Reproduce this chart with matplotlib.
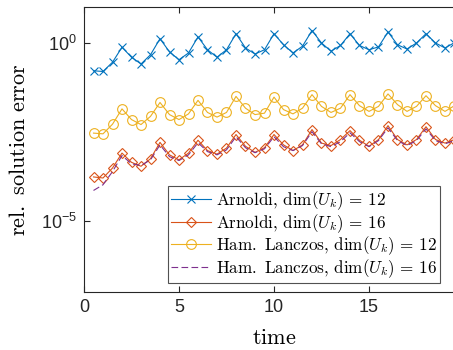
import numpy as np
import matplotlib
matplotlib.use('Agg')
import matplotlib.pyplot as plt
from matplotlib.ticker import FixedLocator, NullLocator

plt.rcParams['font.family'] = ['Liberation Sans', 'DejaVu Sans']
plt.rcParams['mathtext.fontset'] = 'cm'
plt.rcParams['axes.unicode_minus'] = False

# time samples
t = [0.5, 1.0, 1.5, 2.0, 2.5, 3.0, 3.5, 4.0, 4.5, 5.0, 5.5, 6.0, 6.5, 7.0,
     7.5, 8.0, 8.5, 9.0, 9.5, 10.0, 10.5, 11.0, 11.5, 12.0, 12.5, 13.0,
     13.5, 14.0, 14.5, 15.0, 15.5, 16.0, 16.5, 17.0, 17.5, 18.0, 18.5,
     19.0, 19.5]

# log10 of the relative solution error
arnoldi_12 = [-0.79, -0.81, -0.55, -0.13, -0.41, -0.60, -0.34, 0.11, -0.26,
              -0.48, -0.29, 0.16, -0.20, -0.41, -0.20, 0.25, -0.15, -0.32,
              -0.20, 0.25, -0.06, -0.29, -0.10, 0.34, -0.01, -0.24, -0.08,
              0.25, -0.08, -0.20, -0.12, 0.30, -0.06, -0.18, -0.01, 0.25,
              -0.01, -0.15, 0.00]
arnoldi_16 = [-3.77, -3.80, -3.52, -3.10, -3.36, -3.47, -3.26, -2.80, -3.15,
              -3.29, -3.10, -2.74, -3.03, -3.13, -2.96, -2.58, -2.91, -3.08,
              -2.95, -2.58, -2.87, -3.03, -2.87, -2.44, -2.82, -2.89, -2.72,
              -2.47, -2.74, -2.91, -2.72, -2.33, -2.72, -2.87, -2.72, -2.36,
              -2.72, -2.82, -2.72]
lanczos_12 = [-2.54, -2.56, -2.29, -1.86, -2.16, -2.30, -2.07, -1.68, -2.02,
              -2.16, -2.00, -1.62, -1.96, -2.09, -1.96, -1.51, -1.84, -2.02,
              -1.98, -1.53, -1.88, -2.00, -1.84, -1.46, -1.79, -1.96, -1.84,
              -1.46, -1.77, -1.93, -1.79, -1.44, -1.74, -1.93, -1.79, -1.49,
              -1.77, -1.93, -1.77]
lanczos_16 = [-4.15, -3.99, -3.62, -3.17, -3.40, -3.45, -3.29, -2.87, -3.20,
              -3.31, -3.15, -2.81, -3.06, -3.15, -3.01, -2.64, -2.95, -3.09,
              -2.98, -2.64, -2.92, -3.03, -2.89, -2.50, -2.84, -2.92, -2.78,
              -2.53, -2.78, -2.92, -2.75, -2.39, -2.75, -2.89, -2.75, -2.42,
              -2.75, -2.84, -2.75]

labels = [r'$\mathrm{Arnoldi,}\,\dim(U_k)\,=\,12$',
          r'$\mathrm{Arnoldi,}\,\dim(U_k)\,=\,16$',
          r'$\mathrm{Ham.\ Lanczos,}\,\dim(U_k)\,=\,12$',
          r'$\mathrm{Ham.\ Lanczos,}\,\dim(U_k)\,=\,16$']

fig = plt.figure(figsize=(4.53, 3.5), dpi=100)
# axes run a little past the right edge, like the cropped original
ax = fig.add_axes([84 / 453, 58 / 350, 380 / 453, 285 / 350])

ax.plot(t, 10 ** np.array(arnoldi_12), '-x', color='#0072BD', lw=0.8,
        ms=5.5, mew=0.8, label=labels[0])
ax.plot(t, 10 ** np.array(arnoldi_16), '-D', color='#D95319', lw=0.8,
        ms=5.5, mew=0.8, mfc='none', label=labels[1])
ax.plot(t, 10 ** np.array(lanczos_12), '-o', color='#EDB120', lw=0.8,
        ms=7, mew=0.8, mfc='none', label=labels[2])
ax.plot(t, 10 ** np.array(lanczos_16), '--', color='#7E2F8E', lw=0.8,
        dashes=(6, 3), label=labels[3])

ax.set_yscale('log')
ax.set_xlim(0, 20)
ax.set_ylim(1e-7, 1e1)
ax.yaxis.set_major_locator(FixedLocator([1e-5, 1e0]))
ax.yaxis.set_minor_locator(NullLocator())
ax.set_xticks([0, 5, 10, 15])

for s in ax.spines.values():
    s.set_color('#262626')
    s.set_linewidth(0.8)
ax.tick_params(direction='in', top=True, right=True, labelsize=13,
               colors='#262626', length=4, width=0.8, pad=5)

ax.set_xlabel(r'$\mathrm{time}$', fontsize=16, labelpad=9)
ax.set_ylabel(r'$\mathrm{rel.\ solution\ error}$', fontsize=16, labelpad=8)

leg = ax.legend(loc='lower left', bbox_to_anchor=(84 / 380, 0.03),
                fontsize=12.3, frameon=True, fancybox=False,
                edgecolor='#262626', handlelength=2.3, handletextpad=0.3,
                borderpad=0.2, labelspacing=0.0, borderaxespad=0)
leg.get_frame().set_linewidth(0.8)

fig.savefig('out.png', dpi=100)
